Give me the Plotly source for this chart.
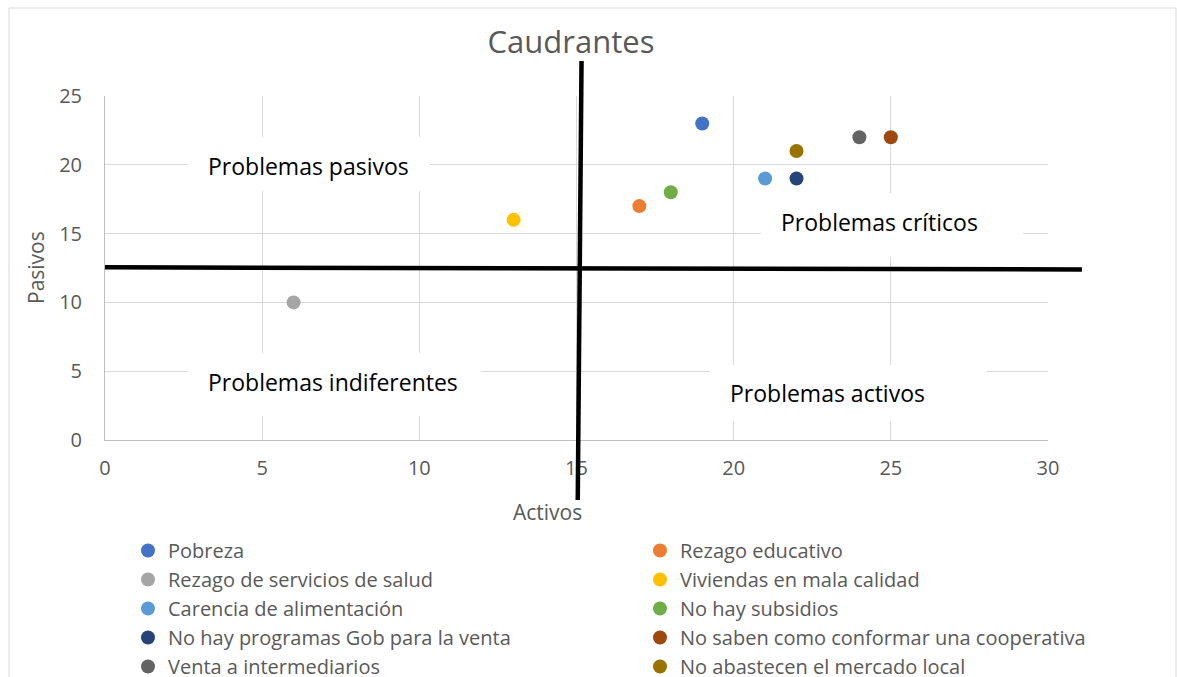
import plotly.graph_objects as go

# ---------------- data ----------------
problemas = [
    "Pobreza",
    "Rezago educativo",
    "Rezago de servicios de salud",
    "Viviendas en mala calidad",
    "Carencia de alimentación",
    "No hay subsidios",
    "No hay programas Gob para la venta",
    "No saben como conformar una cooperativa",
    "Venta a intermediarios",
    "No abastecen el mercado local",
]
activos = [19, 17, 6, 13, 21, 18, 22, 25, 24, 22]
pasivos = [23, 17, 10, 16, 19, 18, 19, 22, 22, 21]
colores = ["#4472C4", "#ED7D31", "#A5A5A5", "#FFC000", "#5B9BD5",
           "#70AD47", "#264478", "#9E480E", "#636363", "#997300"]

x_ticks = [0, 5, 10, 15, 20, 25, 30]
y_ticks = [0, 5, 10, 15, 20, 25]

cuadrantes = ["Problemas pasivos", "Problemas críticos",
              "Problemas indiferentes", "Problemas activos"]

# ---------------- layout constants ----------------
W, H = 1177, 677
ML, MR, MT, MB = 105, 129, 96, 237
PW, PH = W - ML - MR, H - MT - MB
X_MAX, Y_MAX = 30, 25
FONT = "'Open Sans', Lato, Calibri, sans-serif"
GRAY_TXT = "#595959"


def px_to_paper_x(px):
    return (px - ML) / PW


def px_to_paper_y(py):
    return (H - MB - py) / PH


fig = go.Figure()
for i, (n, a, p, c) in enumerate(zip(problemas, activos, pasivos, colores)):
    fig.add_trace(go.Scatter(
        x=[a], y=[p], mode="markers", name=n,
        marker=dict(color=c, size=14, line=dict(width=0)),
        legend="legend" if i % 2 == 0 else "legend2",
        cliponaxis=False,
    ))

shapes = []
# white text boxes (pixel boxes: left, top, right, bottom)
boxes = [(188, 137, 430, 191), (761, 193, 1023, 257),
         (188, 353, 481, 416), (710, 365, 987, 421)]
for (l, t, r, b) in boxes:
    shapes.append(dict(type="rect", xref="paper", yref="paper",
                       x0=px_to_paper_x(l), x1=px_to_paper_x(r),
                       y0=px_to_paper_y(b), y1=px_to_paper_y(t),
                       fillcolor="white", line=dict(width=0), layer="above"))

# quadrant divider lines (in data units, drawn beyond plot area)
v_line = ((15.16, 27.55), (15.04, -4.36))
h_line = ((0.0, 12.55), (31.08, 12.40))
for (x0, y0), (x1, y1) in (v_line, h_line):
    shapes.append(dict(type="line", xref="paper", yref="paper",
                       x0=x0 / X_MAX, y0=y0 / Y_MAX, x1=x1 / X_MAX, y1=y1 / Y_MAX,
                       line=dict(color="black", width=4.5), layer="above"))

# outer chart border
shapes.append(dict(type="rect", xref="paper", yref="paper",
                   x0=px_to_paper_x(9), x1=px_to_paper_x(1176),
                   y0=px_to_paper_y(700), y1=px_to_paper_y(8),
                   line=dict(color="#D9D9D9", width=1), fillcolor="rgba(0,0,0,0)",
                   layer="below"))

annotations = []
# quadrant labels: left edge of text and vertical centre (px)
label_pos = [(206, 166), (779, 222), (206, 382), (728, 393)]
for txt, (lx, cy) in zip(cuadrantes, label_pos):
    annotations.append(dict(text=txt, xref="paper", yref="paper",
                            x=px_to_paper_x(lx), y=px_to_paper_y(cy),
                            xanchor="left", yanchor="middle", showarrow=False,
                            font=dict(family=FONT, size=23, color="black")))
# axis titles
annotations.append(dict(text="Activos", xref="paper", yref="paper",
                        x=px_to_paper_x(547), y=px_to_paper_y(512),
                        xanchor="center", yanchor="middle", showarrow=False,
                        font=dict(family=FONT, size=21, color=GRAY_TXT)))
annotations.append(dict(text="Pasivos", xref="paper", yref="paper",
                        x=px_to_paper_x(36), y=px_to_paper_y(268),
                        xanchor="center", yanchor="middle", showarrow=False,
                        textangle=-90,
                        font=dict(family=FONT, size=21, color=GRAY_TXT)))

fig.update_layout(
    width=W, height=H,
    margin=dict(l=ML, r=MR, t=MT, b=MB, autoexpand=False),
    paper_bgcolor="white", plot_bgcolor="white",
    font=dict(family=FONT, color=GRAY_TXT),
    title=dict(text="Caudrantes", x=571 / W, xanchor="center",
               y=1 - 42 / H, yanchor="middle",
               font=dict(family=FONT, size=31, color=GRAY_TXT)),
    xaxis=dict(range=[0, X_MAX], tickvals=x_ticks, showgrid=True,
               gridcolor="#D9D9D9", gridwidth=1, zeroline=False,
               showline=True, linecolor="#BFBFBF", linewidth=1,
               ticks="", ticklabelstandoff=10,
               tickfont=dict(family=FONT, size=20, color=GRAY_TXT)),
    yaxis=dict(range=[0, Y_MAX], tickvals=y_ticks, showgrid=True,
               gridcolor="#D9D9D9", gridwidth=1, zeroline=False,
               showline=True, linecolor="#BFBFBF", linewidth=1,
               ticks="", ticklabelstandoff=18,
               tickfont=dict(family=FONT, size=20, color=GRAY_TXT)),
    legend=dict(x=px_to_paper_x(128), y=px_to_paper_y(531), xanchor="left",
                yanchor="top", orientation="v", bgcolor="rgba(0,0,0,0)",
                font=dict(family=FONT, size=20, color=GRAY_TXT),
                itemwidth=30, tracegroupgap=0),
    legend2=dict(x=px_to_paper_x(640), y=px_to_paper_y(531), xanchor="left",
                 yanchor="top", orientation="v", bgcolor="rgba(0,0,0,0)",
                 font=dict(family=FONT, size=20, color=GRAY_TXT),
                 itemwidth=30, tracegroupgap=0),
    shapes=shapes,
    annotations=annotations,
    showlegend=True,
)

fig.write_html("out.html",
               config={"displayModeBar": False},
               post_script="document.body.style.margin='0';"
                           "document.body.style.padding='0';")
